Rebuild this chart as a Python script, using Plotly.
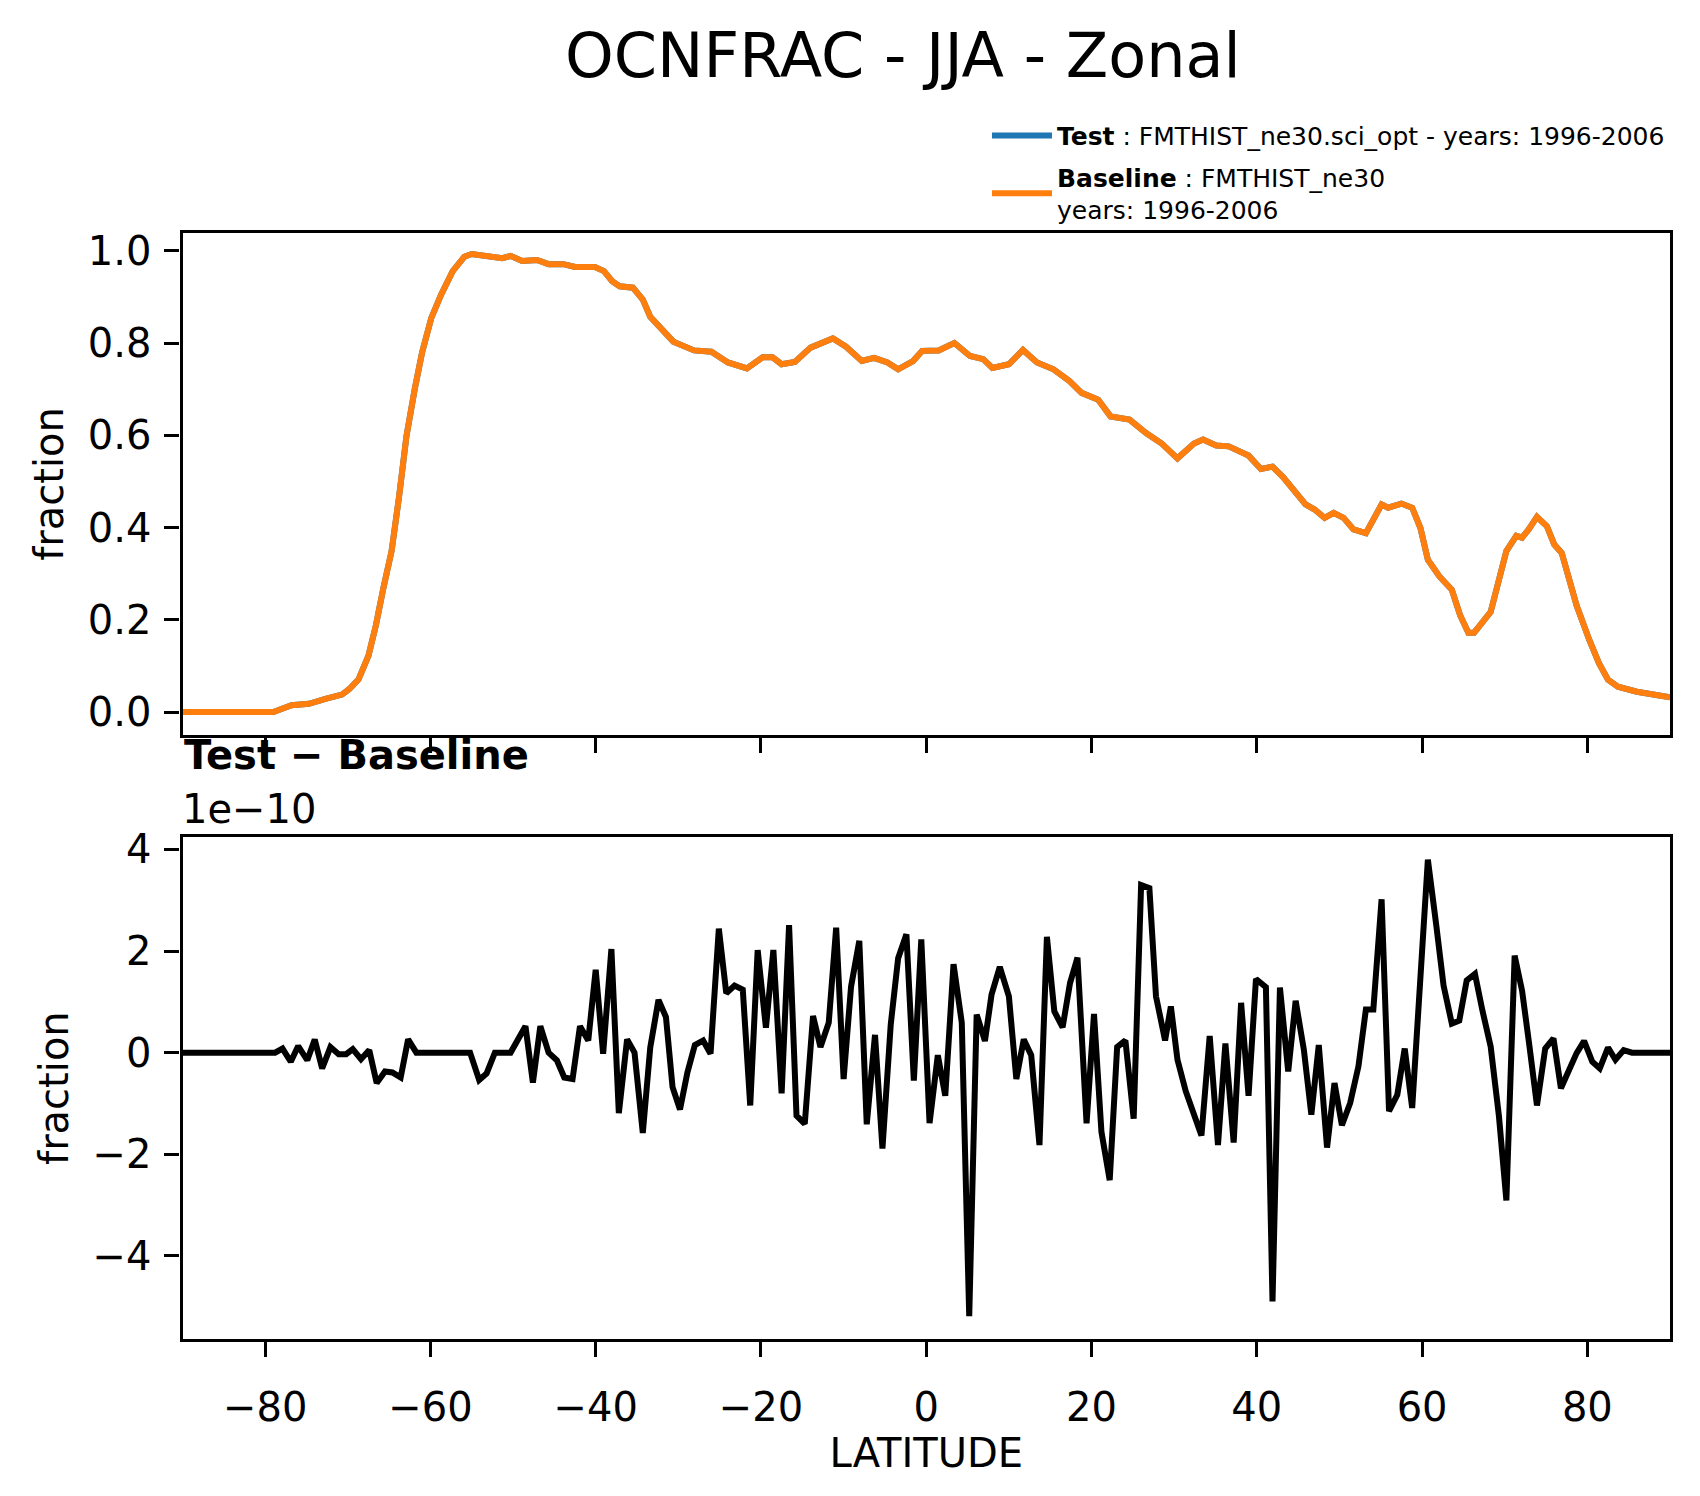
import plotly.graph_objects as go

# zonal mean ocean fraction, JJA (test and baseline agree to ~1e-10, so one curve)
lat_mean = [
    -90.0, -79.0, -76.8, -74.7, -72.6, -70.7, -69.8, -68.7, -67.5, -66.6,
    -65.7, -64.7, -63.8, -62.9, -61.9, -61.0, -59.9, -58.7, -57.3, -55.9,
    -55.0, -53.2, -51.3, -50.3, -48.9, -47.1, -45.7, -43.9, -42.5, -40.1,
    -39.0, -38.0, -37.1, -35.5, -34.3, -33.4, -32.0, -30.6, -28.1, -26.0,
    -24.0, -21.7, -19.8, -18.6, -17.5, -15.9, -14.0, -12.8, -11.3, -9.7,
    -7.8, -6.3, -4.7, -3.4, -1.6, -0.5, 1.5, 3.4, 5.3, 6.9,
    8.0, 10.0, 11.7, 13.4, 15.4, 17.3, 18.8, 20.8, 22.3, 24.6,
    26.6, 28.5, 30.4, 32.4, 33.5, 35.1, 36.6, 39.0, 40.5, 41.9,
    43.2, 45.9, 47.0, 48.2, 49.3, 50.5, 51.7, 53.2, 54.0, 55.1,
    55.9, 57.5, 58.8, 59.8, 60.7, 62.1, 63.6, 64.6, 65.6, 66.3,
    68.3, 69.0, 70.2, 71.4, 72.1, 72.9, 73.9, 75.1, 76.0, 76.9,
    77.7, 78.7, 80.2, 81.4, 82.5, 83.7, 86.0, 88.3, 90.0,
]
ocnfrac_base = [
    0.0, 0.0, 0.015, 0.018, 0.029, 0.038, 0.05, 0.071, 0.122, 0.188,
    0.268, 0.349, 0.466, 0.598, 0.70, 0.78, 0.854, 0.905, 0.956, 0.987,
    0.993, 0.99, 0.984, 0.989, 0.978, 0.98, 0.971, 0.971, 0.965, 0.965,
    0.956, 0.934, 0.923, 0.92, 0.894, 0.857, 0.828, 0.803, 0.784, 0.781,
    0.758, 0.745, 0.769, 0.769, 0.754, 0.759, 0.79, 0.798, 0.81, 0.792,
    0.761, 0.768, 0.758, 0.743, 0.761, 0.783, 0.784, 0.80, 0.772, 0.765,
    0.746, 0.754, 0.785, 0.758, 0.743, 0.718, 0.692, 0.677, 0.641, 0.634,
    0.605, 0.582, 0.55, 0.582, 0.591, 0.578, 0.576, 0.556, 0.527, 0.532,
    0.509, 0.45, 0.439, 0.421, 0.432, 0.421, 0.396, 0.388, 0.414, 0.45,
    0.443, 0.452, 0.443, 0.399, 0.33, 0.294, 0.265, 0.21, 0.172, 0.172,
    0.217, 0.268, 0.349, 0.382, 0.378, 0.396, 0.423, 0.403, 0.363, 0.345,
    0.297, 0.231, 0.158, 0.106, 0.07, 0.055, 0.044, 0.037, 0.032,
]
ocnfrac_test = ocnfrac_base

# test - baseline, in units of 1e-10
lat_diff = [
    -90.0, -78.8, -77.9, -76.9, -76.0, -74.9, -74.0, -73.1, -72.1, -71.1,
    -70.2, -69.4, -68.4, -67.4, -66.5, -65.5, -64.6, -63.6, -62.7, -61.7,
    -55.2, -54.1, -53.2, -52.2, -50.3, -48.5, -47.6, -46.7, -45.7, -44.7,
    -43.8, -42.8, -41.9, -40.9, -40.0, -39.1, -38.1, -37.2, -36.2, -35.3,
    -34.3, -33.4, -32.4, -31.5, -30.7, -29.8, -28.9, -28.0, -27.0, -26.1,
    -25.1, -24.2, -23.2, -22.2, -21.3, -20.4, -19.4, -18.5, -17.5, -16.6,
    -15.7, -14.7, -13.7, -12.8, -11.8, -10.9, -10.0, -9.1, -8.1, -7.2,
    -6.2, -5.3, -4.3, -3.4, -2.4, -1.5, -0.6, 0.4, 1.4, 2.3,
    3.3, 4.3, 5.2, 6.1, 7.1, 7.9, 8.9, 10.0, 10.9, 11.8,
    12.7, 13.7, 14.6, 15.5, 16.5, 17.4, 18.3, 19.4, 20.3, 21.2,
    22.2, 23.1, 24.1, 25.1, 26.0, 27.0, 27.8, 28.9, 29.6, 30.4,
    31.4, 32.4, 33.3, 34.3, 35.3, 36.2, 37.2, 38.1, 39.0, 39.9,
    41.1, 41.9, 42.8, 43.8, 44.7, 45.7, 46.6, 47.5, 48.5, 49.4,
    50.3, 51.3, 52.3, 53.2, 54.1, 55.1, 56.0, 57.0, 57.9, 58.8,
    59.8, 60.7, 61.7, 62.6, 63.6, 64.5, 65.4, 66.4, 67.3, 68.3,
    69.3, 70.2, 71.2, 72.1, 73.0, 73.9, 74.9, 75.9, 76.8, 77.7,
    78.7, 79.6, 80.6, 81.5, 82.5, 83.4, 84.4, 85.4, 90.0,
]
diff_e10 = [
    0.0, 0.0, 0.08, -0.18, 0.13, -0.15, 0.26, -0.31, 0.11, -0.03,
    -0.03, 0.07, -0.13, 0.05, -0.60, -0.37, -0.39, -0.49, 0.26, 0.0,
    0.0, -0.54, -0.41, 0.0, 0.0, 0.52, -0.59, 0.52, 0.0, -0.15,
    -0.49, -0.52, 0.52, 0.24, 1.63, -0.02, 2.04, -1.19, 0.26, 0.0,
    -1.58, 0.10, 1.04, 0.70, -0.68, -1.12, -0.39, 0.15, 0.24, -0.02,
    2.44, 1.17, 1.32, 1.24, -1.04, 2.02, 0.49, 2.02, -0.80, 2.51,
    -1.24, -1.40, 0.72, 0.11, 0.59, 2.46, -0.52, 1.30, 2.20, -1.41,
    0.35, -1.89, 0.55, 1.86, 2.33, -0.55, 2.23, -1.39, -0.05, -0.85,
    1.74, 0.59, -5.19, 0.75, 0.23, 1.14, 1.69, 1.11, -0.52, 0.26,
    -0.05, -1.82, 2.28, 0.81, 0.50, 1.37, 1.87, -1.39, 0.76, -1.56,
    -2.51, 0.11, 0.24, -1.30, 3.30, 3.24, 1.11, 0.24, 0.91, -0.14,
    -0.76, -1.19, -1.63, 0.33, -1.82, 0.18, -1.77, 0.98, -0.85, 1.45,
    1.29, -4.90, 1.28, -0.37, 1.02, 0.05, -1.22, 0.15, -1.87, -0.60,
    -1.43, -0.99, -0.27, 0.85, 0.85, 3.02, -1.15, -0.83, 0.08, -1.09,
    1.75, 3.80, 2.53, 1.32, 0.57, 0.63, 1.42, 1.55, 0.83, 0.12,
    -1.25, -2.91, 1.91, 1.22, 0.12, -1.04, 0.08, 0.28, -0.70, -0.34,
    -0.01, 0.23, -0.18, -0.31, 0.10, -0.14, 0.05, 0.0, 0.0,
]

test_name = "<b>Test</b> : FMTHIST_ne30.sci_opt - years: 1996-2006"
base_name = "<b>Baseline</b> : FMTHIST_ne30<br>years: 1996-2006"

W, H = 1700, 1496
FONT = "DejaVu Sans"


# positions below are measured in page pixels; the page body adds an offset
def px_x(x):
    return (x - 8) / W


def px_y(y):
    shift = 16 - 6 * (y - 232) / 1108
    return 1 - (y - shift) / H


fig = go.Figure()
fig.add_trace(go.Scatter(
    x=lat_mean, y=ocnfrac_test, mode="lines", name=test_name,
    legendgroup="test",
    line=dict(color="#1f77b4", width=6), xaxis="x", yaxis="y",
))
fig.add_trace(go.Scatter(
    x=lat_mean, y=ocnfrac_base, mode="lines", name=base_name,
    legendgroup="base",
    line=dict(color="#ff7f0e", width=6), xaxis="x", yaxis="y",
))
fig.add_trace(go.Scatter(
    x=lat_diff, y=diff_e10, mode="lines", showlegend=False,
    line=dict(color="black", width=6), xaxis="x2", yaxis="y2",
))

axis_common = dict(
    showline=True, mirror=True, linecolor="black", linewidth=3.3,
    ticks="outside", ticklen=15, tickwidth=3.3, tickcolor="black",
    showgrid=False, zeroline=False,
    tickfont=dict(family=FONT, size=40, color="black"),
)
xdom = [px_x(182.5), px_x(1670)]

fig.update_layout(
    width=W, height=H,
    margin=dict(l=0, r=0, t=0, b=0),
    paper_bgcolor="white", plot_bgcolor="white",
    font=dict(family=FONT, color="black"),
    xaxis=dict(domain=xdom, range=[-90, 90], tick0=0, dtick=20,
               showticklabels=False, anchor="y", **axis_common),
    yaxis=dict(domain=[px_y(735), px_y(232)], range=[-0.0495, 1.0395],
               tick0=0, dtick=0.2, tickformat=".1f", anchor="x",
               ticklabelstandoff=5, **axis_common),
    xaxis2=dict(domain=xdom, range=[-90, 90], tick0=0, dtick=20,
                anchor="y2", ticklabelstandoff=16,
                title=dict(text="LATITUDE", standoff=5,
                           font=dict(family=FONT, size=40, color="black")),
                **axis_common),
    yaxis2=dict(domain=[px_y(1340), px_y(837)], range=[-5.64, 4.25],
                tick0=0, dtick=2, anchor="x2",
                ticklabelstandoff=5, **axis_common),
    legend=dict(
        x=px_x(987), y=px_y(112), xanchor="left", yanchor="top",
        font=dict(family=FONT, size=25, color="black"),
        bgcolor="rgba(0,0,0,0)", itemwidth=60,
        traceorder="grouped", tracegroupgap=6,
    ),
    annotations=[
        dict(text="OCNFRAC - JJA - Zonal", x=px_x(903), y=px_y(55),
             xref="paper", yref="paper", xanchor="center", yanchor="middle",
             showarrow=False, font=dict(family=FONT, size=62)),
        dict(text="<b>Test − Baseline</b>", x=px_x(182), y=px_y(755),
             xref="paper", yref="paper", xanchor="left", yanchor="middle",
             showarrow=False, font=dict(family=FONT, size=40)),
        dict(text="1e−10", x=px_x(180), y=px_y(809),
             xref="paper", yref="paper", xanchor="left", yanchor="middle",
             showarrow=False, font=dict(family=FONT, size=40)),
        dict(text="fraction", x=px_x(49), y=px_y(483.5), textangle=-90,
             xref="paper", yref="paper", xanchor="center", yanchor="middle",
             showarrow=False, font=dict(family=FONT, size=40)),
        dict(text="fraction", x=px_x(54), y=px_y(1088.5), textangle=-90,
             xref="paper", yref="paper", xanchor="center", yanchor="middle",
             showarrow=False, font=dict(family=FONT, size=40)),
    ],
)

fig.write_html("out.html")
